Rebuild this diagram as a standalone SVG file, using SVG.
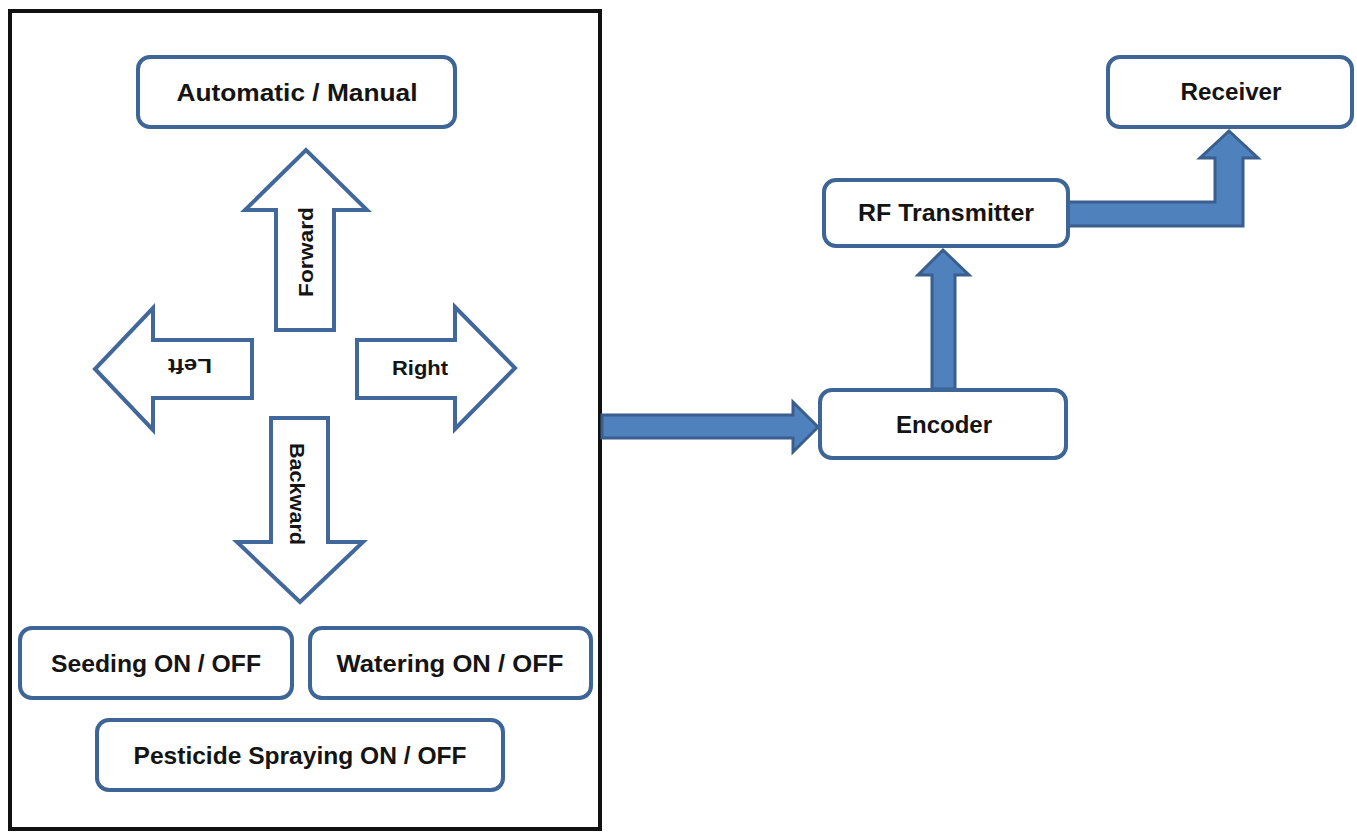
<svg xmlns="http://www.w3.org/2000/svg" width="1357" height="832" viewBox="0 0 1357 832">
<style>
.box{fill:#fff;stroke:#3d6596;stroke-width:4}
.outl{fill:#fff;stroke:#41679b;stroke-width:4;stroke-linejoin:miter}
.blue{fill:#4f81bd;stroke:#3a5f8f;stroke-width:3;stroke-linejoin:miter}
.t{font-family:"Liberation Sans",Arial,sans-serif;font-weight:bold;font-size:24px;fill:#141414;text-anchor:middle}
.ta{font-family:"Liberation Sans",Arial,sans-serif;font-weight:bold;font-size:21px;fill:#141414;text-anchor:middle}
</style>
<rect width="1357" height="832" fill="#fff"/>
<g id="panel">
<rect x="10" y="11" width="590" height="818" fill="none" stroke="#111" stroke-width="4"/>
</g>
<g id="connectors">
<polygon class="blue" points="602,415 793,415 793,402 818,427 793,452 793,438 602,438"/>
<polygon class="blue" points="932,389 932,275 918,275 943,250 969,275 955,275 955,389"/>
<polygon class="blue" points="1068,202 1215,202 1215,158 1200,158 1229,131 1258,158 1243,158 1243,226 1068,226"/>
</g>
<g id="auto-manual">
<rect class="box" x="138" y="57" width="317" height="70" rx="12"/>
<text class="t" x="297" y="101" textLength="241" lengthAdjust="spacingAndGlyphs">Automatic / Manual</text>
</g>
<g id="forward">
<polygon class="outl" points="276,330 276,210 245,210 306,150 367,210 334,210 334,330"/>
<text class="ta" transform="translate(306,252) rotate(-90)" x="0" y="7" textLength="90" lengthAdjust="spacingAndGlyphs">Forward</text>
</g>
<g id="left">
<polygon class="outl" points="252,340 153,340 153,308 95,369 153,430 153,398 252,398"/>
<text class="ta" transform="translate(190,366) rotate(180)" x="0" y="7" textLength="44" lengthAdjust="spacingAndGlyphs">Left</text>
</g>
<g id="right">
<polygon class="outl" points="357,340 455,340 455,307 515,368 455,429 455,398 357,398"/>
<text class="ta" x="420" y="375" textLength="56" lengthAdjust="spacingAndGlyphs">Right</text>
</g>
<g id="backward">
<polygon class="outl" points="271,418 328,418 328,542 363,542 300,602 237,542 271,542"/>
<text class="ta" transform="translate(297,494) rotate(90)" x="0" y="7" textLength="102" lengthAdjust="spacingAndGlyphs">Backward</text>
</g>
<g id="seeding">
<rect class="box" x="20" y="628" width="272" height="70" rx="12"/>
<text class="t" x="156" y="672" textLength="210" lengthAdjust="spacingAndGlyphs">Seeding ON / OFF</text>
</g>
<g id="watering">
<rect class="box" x="310" y="628" width="281" height="70" rx="12"/>
<text class="t" x="450" y="672" textLength="227" lengthAdjust="spacingAndGlyphs">Watering ON / OFF</text>
</g>
<g id="pesticide">
<rect class="box" x="97" y="720" width="406" height="70" rx="12"/>
<text class="t" x="300" y="764" textLength="333" lengthAdjust="spacingAndGlyphs">Pesticide Spraying ON / OFF</text>
</g>
<g id="encoder">
<rect class="box" x="820" y="390" width="246" height="68" rx="12"/>
<text class="t" x="944" y="433" textLength="96" lengthAdjust="spacingAndGlyphs">Encoder</text>
</g>
<g id="rf-transmitter">
<rect class="box" x="824" y="180" width="244" height="66" rx="12"/>
<text class="t" x="946" y="221" textLength="176" lengthAdjust="spacingAndGlyphs">RF Transmitter</text>
</g>
<g id="receiver">
<rect class="box" x="1108" y="57" width="244" height="70" rx="12"/>
<text class="t" x="1231" y="100" textLength="101" lengthAdjust="spacingAndGlyphs">Receiver</text>
</g>
</svg>
